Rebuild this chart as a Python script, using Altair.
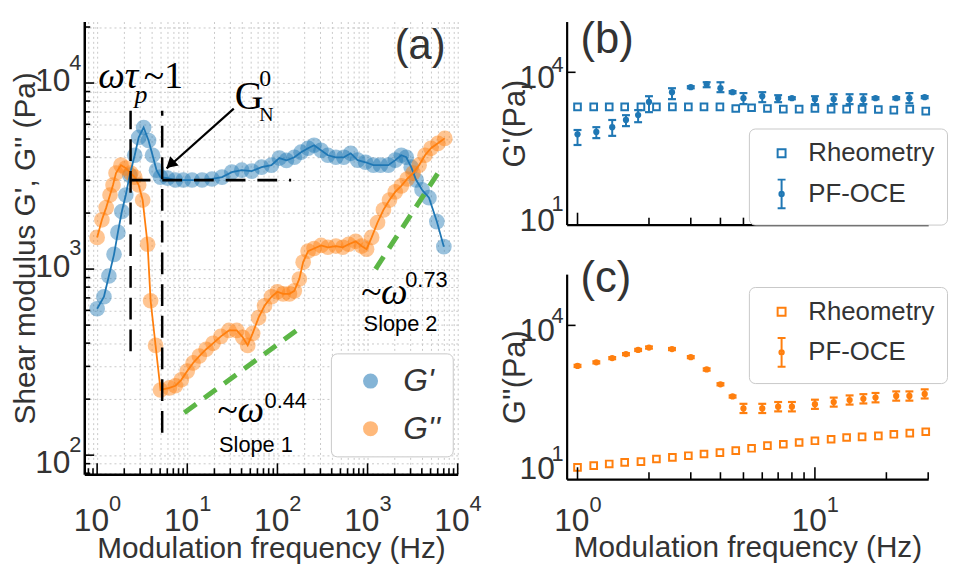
import altair as alt
import pandas as pd

BLUE = "#1f77b4"
ORANGE = "#ff7f0e"
GREEN = "#5cb646"
TXT = "#333333"
FONT = "Liberation Sans, Arial, sans-serif"
SERIF = "Liberation Serif, Times New Roman, serif"

# ---------------- Panel (a) data ----------------
a_gp_freq = [1.0, 1.19, 1.35, 1.54, 1.70, 1.88, 2.08, 2.30, 2.61, 2.89, 3.28, 3.72, 4.12, 4.56, 5.05,
             6.03, 7.38, 9.04, 11.3, 14.6, 18.8, 24.3, 31.2, 40.2, 51.8,
             66.7, 85.9, 105, 126, 154, 183, 219, 255, 305, 363,
             445, 545, 650, 776, 950, 1160, 1390, 1700, 2030, 2370,
             2690, 3050, 3460, 4020, 4800, 5870, 7020]
a_gp_val = [612, 710, 918, 1200, 1575, 2040, 2500, 3200, 4090, 5100, 5770, 4910, 4090, 3400, 3120,
            3085, 3010, 3010, 3010, 3010, 3050, 3120, 3320, 3400, 3360,
            3530, 3620, 3950, 3840, 3990, 4250, 4460, 4630, 4350, 4090,
            3990, 3990, 4190, 3850, 3750, 3620, 3620, 3620, 3850, 4090,
            3990, 3530, 3010, 2670, 2420, 1800, 1320]
a_gpp_freq = [1.0, 1.13, 1.26, 1.39, 1.50, 1.62, 1.84, 2.08, 2.36, 2.61, 2.89, 3.20, 3.63, 3.92, 4.45, 5.05,
              6.34, 7.38, 8.59, 10.0, 11.6, 13.6, 16.2, 19.3, 23.6, 29.0,
              35.4, 41.2, 46.8, 53.1, 61.8, 72.0, 85.9, 100, 116, 136,
              154, 175, 193, 219, 255, 305, 363, 445, 531, 618,
              738, 859, 975, 1110, 1290, 1500, 1750, 2030, 2370, 2750,
              3200, 3730, 4340, 5050, 6030, 7190]
a_gpp_val = [1480, 1840, 2140, 2500, 2830, 3280, 3620, 3490, 3280, 3120, 2830, 2350, 1360, 676, 389, 224,
             230, 236, 254, 283, 313, 341, 371, 399, 435, 468,
             468, 430, 389, 451, 548, 635, 710, 755, 736, 736,
             764, 885, 1090, 1250, 1290, 1340, 1310, 1330, 1310, 1360,
             1410, 1330, 1280, 1480, 1780, 2080, 2350, 2600, 2800, 3050,
             3280, 3620, 4090, 4460, 4740, 5040]
a_series = ["G'", "G''"]

# ---------------- Panels (b), (c) data ----------------
pf_freq = [1, 1.2, 1.4, 1.6, 1.8, 2, 2.5, 3, 3.5, 4, 4.5, 5, 6, 7, 8, 10, 12, 14, 16, 18, 22, 25, 29]
rh_freq = [1.0, 1.17, 1.36, 1.58, 1.85, 2.15, 2.51, 2.93, 3.41, 3.98, 4.64, 5.41, 6.31, 7.36, 8.58,
           10.0, 11.7, 13.6, 15.8, 18.5, 21.5, 25.1, 29.3]
methods = ["Rheometry", "PF-OCE"]

b_rh_val = [2090, 2090, 2090, 2090, 2090, 2090, 2090, 2090, 2090, 2090,
            1940, 2000, 1940, 1880, 1880, 1940, 1880, 1880, 1880, 1850, 1800, 1880, 1720]
b_pf_val = [600, 670, 830, 1150, 1440, 2600, 4050, 5080, 5820, 4860, 4060, 3090,
            3380, 3090, 3090, 2960, 2960, 2960, 2960, 3090, 3090, 3090, 3240]
b_pf_lo = [370, 505, 560, 870, 1040, 1640, 2960, 4840, 5080, 4060, 3860, 2360,
           2580, 2580, 2940, 2360, 2360, 2360, 2360, 2940, 2940, 2460, 3080]
b_pf_hi = [730, 830, 1150, 1430, 1800, 3380, 4860, 5330, 6370, 6370, 4260, 3900,
           4060, 3540, 3240, 3380, 3700, 3700, 3700, 3240, 3240, 3900, 3400]

c_rh_val = [17, 18.4, 19.8, 21.3, 22, 24.7, 26.6, 28.7, 31, 33, 36, 40, 45, 48, 52, 56,
            60, 65, 67, 70, 75, 79, 84]
c_pf_val = [1620, 1900, 2300, 2750, 3320, 3700, 3450, 2400, 1380, 710, 410, 240,
            240, 260, 260, 290, 320, 350, 370, 390, 420, 420, 460]
c_pf_lo = [1540, 1810, 2190, 2620, 3160, 3520, 3290, 2290, 1310, 675, 390, 195,
           195, 210, 210, 235, 260, 285, 300, 315, 340, 340, 375]
c_pf_hi = [1700, 1990, 2410, 2880, 3480, 3880, 3620, 2520, 1450, 745, 430, 295,
           295, 320, 320, 355, 390, 430, 455, 480, 515, 515, 565]

# tick-label values (decades) and exponents
a_xlab_vals = [1, 10, 100, 1000, 10000]
a_xlab_exp = ["0", "1", "2", "3", "4"]
c_xlab_vals = [1, 10]
c_xlab_exp = ["0", "1"]


def xtick_layer(vals, X, H, L):
    return alt.Chart(pd.DataFrame({"f": vals})).mark_rule(color="black", strokeWidth=1.6).encode(
        x=X, y=alt.value(H), y2=alt.value(H - L))


def ytick_layer(vals, Y, L):
    return alt.Chart(pd.DataFrame({"v": vals})).mark_rule(color="black", strokeWidth=1.6).encode(
        y=Y, x=alt.value(0), x2=alt.value(L))


def text_layer(f, v, s, X, Y, font=FONT, size=22, style="normal", color=TXT):
    return alt.Chart(pd.DataFrame({"f": [f], "v": [v], "t": [s]})).mark_text(
        align="left", baseline="alphabetic", font=font, fontSize=size, fontStyle=style, color=color
    ).encode(x=X, y=Y, text="t:N")


def xlabels(vals, exps, X, H, base_dy, exp_dy, size=32, esize=22, shift=12):
    df = pd.DataFrame({"f": vals, "b": ["10"] * len(vals), "e": exps})
    b = alt.Chart(df).mark_text(align="right", baseline="alphabetic", dx=shift, font=FONT,
                                fontSize=size, color=TXT).encode(x=X, y=alt.value(H + base_dy), text="b:N")
    e = alt.Chart(df).mark_text(align="left", baseline="alphabetic", dx=shift, font=FONT,
                                fontSize=esize, color=TXT).encode(x=X, y=alt.value(H + exp_dy), text="e:N")
    return [b, e]


def ylabel(val, exp, Y, base_dy, exp_dy, base_x=-14, exp_x=-3, size=32, esize=22):
    df = pd.DataFrame({"v": [val], "b": ["10"], "e": [exp]})
    b = alt.Chart(df).mark_text(align="right", baseline="alphabetic", dy=base_dy, font=FONT,
                                fontSize=size, color=TXT).encode(y=Y, x=alt.value(base_x), text="b:N")
    e = alt.Chart(df).mark_text(align="right", baseline="alphabetic", dy=exp_dy, font=FONT,
                                fontSize=esize, color=TXT).encode(y=Y, x=alt.value(exp_x), text="e:N")
    return [b, e]


# ================= Panel (a) =================
WA, HA = 377, 457
xa = alt.Scale(type="log", domain=[0.72, 10000], nice=False)
ya = alt.Scale(type="log", domain=[79, 21400], nice=False)
a_xgrid = [0.8, 0.9] + [m * 10 ** k for k in range(0, 4) for m in range(1, 10)] + [10000]
a_ygrid = [80, 90] + [m * 10 ** k for k in range(2, 4) for m in range(1, 10)] + [10000, 20000]
a_xmajor = [1, 10, 100, 1000, 10000]
a_ymajor = [100, 1000, 10000]

ax_xa = alt.Axis(values=a_xgrid, labels=False, grid=True, gridColor="#c8c8c8", gridDash=[2, 3],
                 ticks=False, domainColor="black", domainWidth=2.5,
                 title="Modulation frequency (Hz)", titleFont=FONT, titleFontSize=30,
                 titleFontWeight="normal", titleColor=TXT, titlePadding=60)
ax_ya = alt.Axis(values=a_ygrid, labels=False, grid=True, gridColor="#c8c8c8", gridDash=[2, 3],
                 ticks=False, domainColor="black", domainWidth=2.5,
                 title="Shear modulus G', G'' (Pa)", titleFont=FONT, titleFontSize=30,
                 titleFontWeight="normal", titleColor=TXT, titlePadding=44)
XA = alt.X("f:Q", scale=xa, axis=ax_xa)
YA = alt.Y("v:Q", scale=ya, axis=ax_ya)

a_df = pd.DataFrame({
    "f": a_gp_freq + a_gpp_freq,
    "v": a_gp_val + a_gpp_val,
    "s": [a_series[0]] * len(a_gp_freq) + [a_series[1]] * len(a_gpp_freq),
})

pts_a = alt.Chart(a_df).mark_circle(size=250, opacity=0.45).encode(
    x=XA, y=YA,
    color=alt.Color("s:N", scale=alt.Scale(domain=a_series, range=[BLUE, ORANGE]),
                    legend=alt.Legend(title=None, orient="none", legendX=249, legendY=335,
                                      padding=12, symbolOffset=12, labelOffset=17, rowPadding=16,
                                      symbolSize=230, symbolOpacity=0.55, labelFont=FONT,
                                      labelFontSize=32, labelFontStyle="italic", labelColor=TXT,
                                      fillColor="white", strokeColor="#c8c8c8", cornerRadius=6)))
line_gp = alt.Chart(pd.DataFrame({"f": a_gp_freq, "v": a_gp_val})).mark_line(
    color=BLUE, strokeWidth=1.8).encode(x=XA, y=YA)
line_gpp = alt.Chart(pd.DataFrame({"f": a_gpp_freq, "v": a_gpp_val})).mark_line(
    color=ORANGE, strokeWidth=1.8).encode(x=XA, y=YA)

# annotations (data coordinates)
vdash = alt.Chart(pd.DataFrame({"f": [2.35, 5.27], "v": [362, 132], "v2": [7100, 7100]})).mark_rule(
    color="black", strokeWidth=2.5, strokeDash=[22, 10]).encode(x=XA, y=YA, y2=alt.Y2("v2:Q"))
hdash = alt.Chart(pd.DataFrame({"f": [2.35], "f2": [142], "v": [3010]})).mark_rule(
    color="black", strokeWidth=2.8, strokeDash=[20, 12]).encode(x=XA, x2=alt.X2("f2:Q"), y=YA)
greens = alt.Chart(pd.DataFrame({"f": [9.27, 1225], "f2": [175, 6340], "v": [169, 1000], "v2": [480, 3400]})).mark_rule(
    color=GREEN, strokeWidth=5, strokeDash=[15, 10]).encode(x=XA, x2=alt.X2("f2:Q"), y=YA, y2=alt.Y2("v2:Q"))
arrow_line = alt.Chart(pd.DataFrame({"f": [32.8], "f2": [5.9], "v": [7280], "v2": [3470]})).mark_rule(
    color="black", strokeWidth=2.2).encode(x=XA, x2=alt.X2("f2:Q"), y=YA, y2=alt.Y2("v2:Q"))
arrow_head = alt.Chart(pd.DataFrame({"f": [6.5], "v": [3650]})).mark_point(
    shape="triangle-up", angle=228, size=160, filled=True, color="black", opacity=1).encode(x=XA, y=YA)

texts_a = [
    text_layer(2000, 13500, "(a)", XA, YA, size=42),
    text_layer(1.03, 9400, "ωτ", XA, YA, font=SERIF, size=38, style="italic", color="black"),
    text_layer(2.6, 7830, "p", XA, YA, font=SERIF, size=26, style="italic", color="black"),
    text_layer(3.3, 9400, "~1", XA, YA, font=SERIF, size=38, color="black"),
    text_layer(33.7, 7280, "G", XA, YA, font=SERIF, size=40, color="black"),
    text_layer(63, 6280, "N", XA, YA, font=SERIF, size=20, color="black"),
    text_layer(63, 9640, "0", XA, YA, font=SERIF, size=24, color="black"),
    text_layer(21.4, 150, "~ω", XA, YA, font=SERIF, size=38, style="italic", color="black"),
    text_layer(72, 180, "0.44", XA, YA, size=22, color="black"),
    text_layer(22.5, 104, "Slope 1", XA, YA, size=22, color="black"),
    text_layer(838, 652, "~ω", XA, YA, font=SERIF, size=38, style="italic", color="black"),
    text_layer(2620, 802, "0.73", XA, YA, size=22, color="black"),
    text_layer(904, 462, "Slope 2", XA, YA, size=22, color="black"),
]

a_xminor = [t for t in a_xgrid if t not in a_xmajor]
a_yminor = [t for t in a_ygrid if t not in a_ymajor]

a_labels = (xlabels(a_xlab_vals, a_xlab_exp, XA, HA, 57, 37)
            + ylabel(10000, "4", YA, 8, -13)
            + ylabel(1000, "3", YA, 8, -14)
            + ylabel(100, "2", YA, 18, -3))

panel_a = alt.layer(
    pts_a, line_gp, line_gpp,
    xtick_layer(a_xmajor, XA, HA, 11), xtick_layer(a_xminor, XA, HA, 6),
    ytick_layer(a_ymajor, YA, 10), ytick_layer(a_yminor, YA, 6),
    vdash, hdash, greens, arrow_line, arrow_head, *texts_a, *a_labels
).properties(width=WA, height=HA)

# ================= Panels (b), (c) =================
WB, HB, HC = 365, 205, 207
xbc = alt.Scale(type="log", domain=[0.9, 30], nice=False)
ybc = alt.Scale(type="log", domain=[10, 100000], nice=False)
bc_xmajor = [1, 10]
bc_xminor = [2, 3, 4, 5, 6, 7, 8, 9, 20, 30]
ERR = "M0,-3.6V3.6M-1,-3.6H1M-1,3.6H1M0.55,0A0.55,0.55,0,1,1,-0.55,0A0.55,0.55,0,1,1,0.55,0Z"
CAP = "M-1,0H1"


def make_panel(H, color, rh_val, pf_val, pf_lo, pf_hi, ytitle, show_x, label, label_v, legY, ylab_offsets):
    if show_x:
        ax_x = alt.Axis(values=bc_xmajor, labels=False, ticks=False, grid=False, domainColor="black",
                        domainWidth=2.2, title="Modulation frequency (Hz)",
                        titleFont=FONT, titleFontSize=30, titleFontWeight="normal", titleColor=TXT,
                        titlePadding=54)
    else:
        ax_x = alt.Axis(values=bc_xmajor, labels=False, ticks=False, grid=False, domainColor="black",
                        domainWidth=2.2, title=None)
    ax_y = alt.Axis(values=[10, 10000], labels=False, ticks=False, grid=False, domainColor="black",
                    domainWidth=2.2, title=ytitle, titleFont=FONT, titleFontSize=31,
                    titleFontWeight="normal", titleColor=TXT, titlePadding=36)
    X = alt.X("f:Q", scale=xbc, axis=ax_x)
    Y = alt.Y("v:Q", scale=ybc, axis=ax_y)
    rh = alt.Chart(pd.DataFrame({"f": rh_freq, "v": rh_val, "m": [methods[0]] * len(rh_freq)})).mark_point(
        filled=False, strokeWidth=2, size=45, color=color, opacity=1).encode(
        x=X, y=Y,
        shape=alt.Shape("m:N", scale=alt.Scale(domain=methods, range=["square", ERR]),
                        legend=alt.Legend(title=None, orient="none", legendX=184, legendY=legY,
                                          padding=12, symbolOffset=8, labelOffset=14, rowPadding=9,
                                          symbolSize=64, symbolStrokeWidth=2, symbolStrokeColor=color,
                                          labelFont=FONT, labelFontSize=26, labelColor=TXT,
                                          fillColor="white", strokeColor="#c8c8c8", cornerRadius=6)))
    bars = alt.Chart(pd.DataFrame({"f": pf_freq, "v": pf_lo, "v2": pf_hi})).mark_rule(
        color=color, strokeWidth=2).encode(x=X, y=Y, y2=alt.Y2("v2:Q"))
    caps_lo = alt.Chart(pd.DataFrame({"f": pf_freq, "v": pf_lo})).mark_point(
        shape=CAP, size=64, strokeWidth=2.2, filled=False, color=color, opacity=1).encode(x=X, y=Y)
    caps_hi = alt.Chart(pd.DataFrame({"f": pf_freq, "v": pf_hi})).mark_point(
        shape=CAP, size=64, strokeWidth=2.2, filled=False, color=color, opacity=1).encode(x=X, y=Y)
    dots = alt.Chart(pd.DataFrame({"f": pf_freq, "v": pf_val})).mark_circle(
        size=40, color=color, opacity=1).encode(x=X, y=Y)
    lab = text_layer(label[0], label_v, label[1], X, Y, size=44)
    (t_b, t_e), (b_b, b_e) = ylab_offsets
    labs = ylabel(10000, "4", Y, t_b, t_e, base_x=-12) + ylabel(10, "1", Y, b_b, b_e, base_x=-12)
    if show_x:
        labs += xlabels(c_xlab_vals, c_xlab_exp, X, H, 52, 33)
    return alt.layer(
        rh, bars, caps_lo, caps_hi, dots,
        xtick_layer(bc_xmajor, X, H, 12), xtick_layer(bc_xminor, X, H, 7),
        ytick_layer([10000], Y, 9), lab, *labs
    ).properties(width=WB, height=H)


panel_b = make_panel(HB, BLUE, b_rh_val, b_pf_val, b_pf_lo, b_pf_hi, "G'(Pa)", False,
                     (1.03, "(b)"), 24000, 108, ((16, 0), (6, -14)))
panel_c = make_panel(HC, ORANGE, c_rh_val, c_pf_val, c_pf_lo, c_pf_hi, "G''(Pa)", True,
                     (1.03, "(c)"), 45000, 13, ((16, -2), (0, -18)))

right = alt.vconcat(panel_b, panel_c, spacing=50, bounds="flush").resolve_scale(shape="independent")
chart = alt.hconcat(panel_a, right, spacing=110, bounds="flush").resolve_scale(
    shape="independent", color="independent"
).properties(padding={"left": 3, "top": 7, "right": 0, "bottom": 0}).configure_view(stroke=None)

chart.save("out.html", embed_options={"renderer": "svg", "actions": False})
